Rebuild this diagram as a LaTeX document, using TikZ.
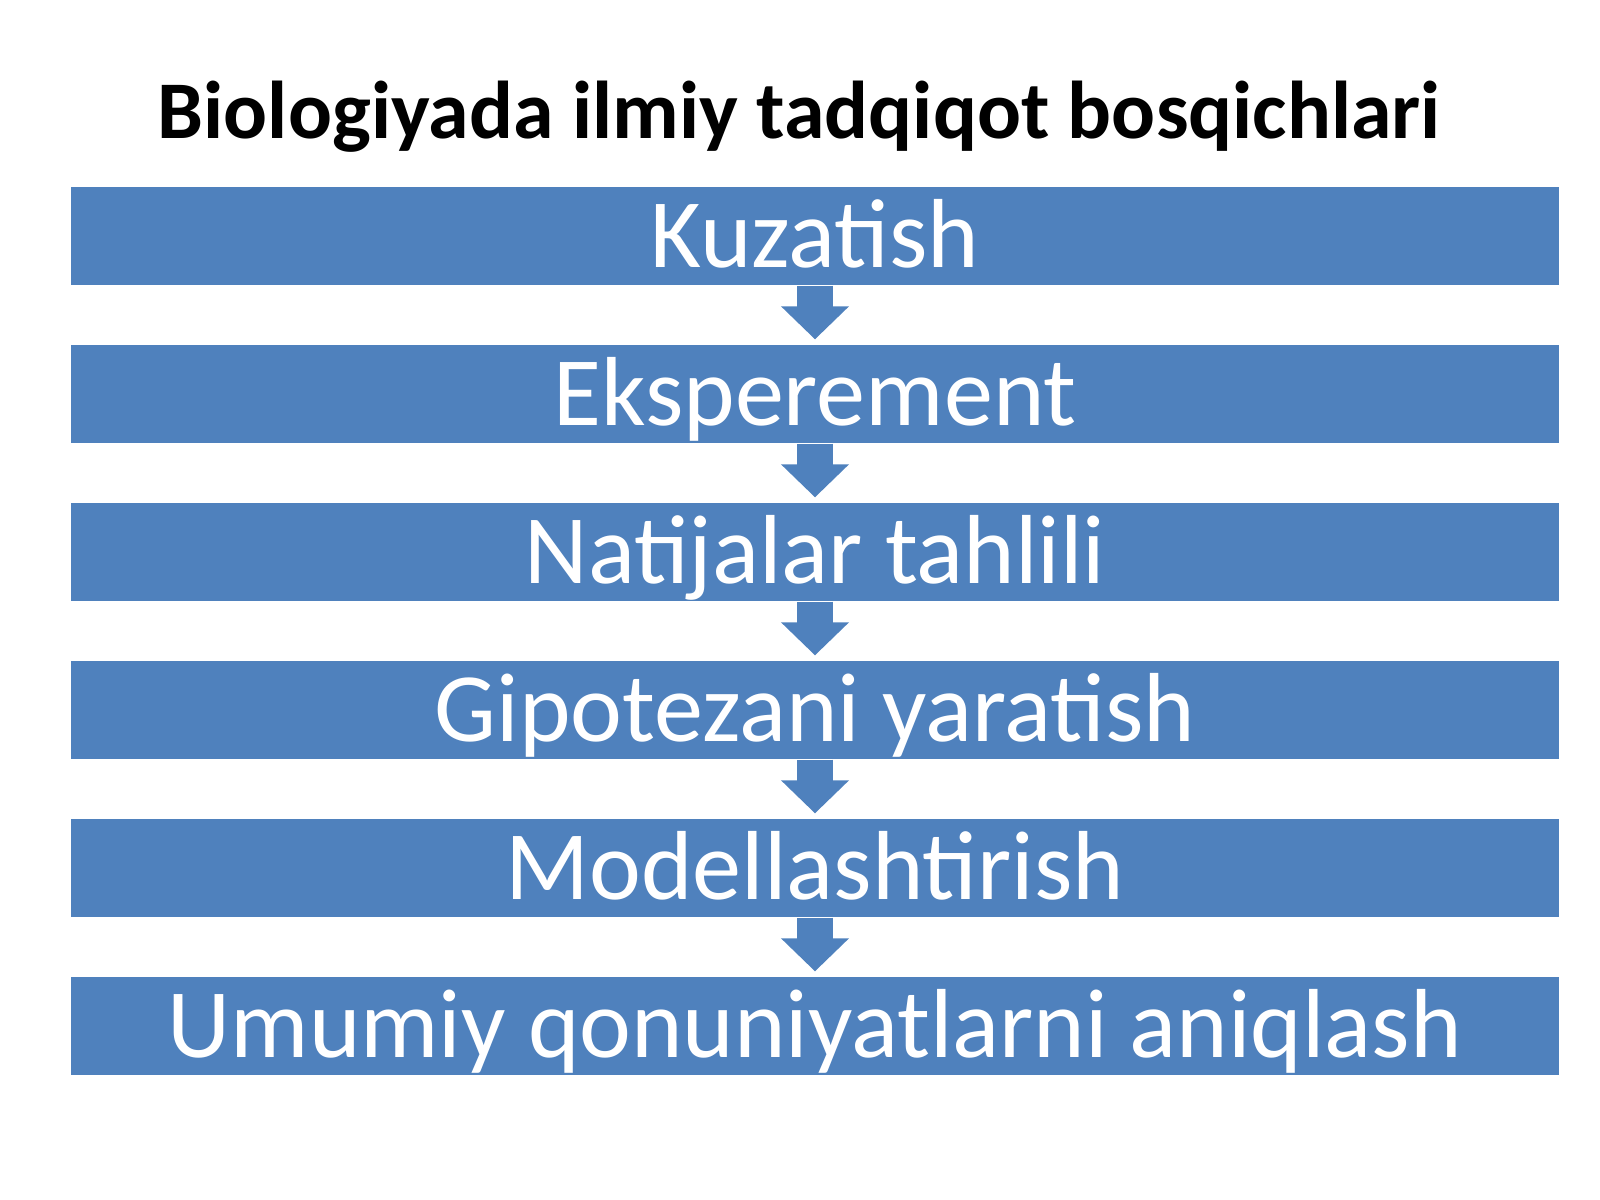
\documentclass[tikz,border=0pt]{standalone}
\usepackage{fontspec}
\setmainfont{Carlito}
\usetikzlibrary{arrows.meta}
\definecolor{barblue}{HTML}{4F81BD}

\begin{document}
\begin{tikzpicture}[x=0.01cm,y=-0.01cm,
  stepbar/.style={fill=barblue, text=white, minimum width=14.88cm, minimum height=0.98cm, inner sep=0pt, text height=0.62cm, text depth=0pt, font=\fontsize{27.9}{33}\selectfont},
  flow/.style={draw=barblue, line width=10pt, -{Triangle[width=18.8pt,length=9.4pt]}, shorten >=1.4pt}]
  \useasboundingbox (0,0) rectangle (1600,1200) ;
  \node[anchor=base, font=\bfseries\fontsize{23.3}{28}\selectfont] (title) at (799,138) {Biologiyada ilmiy tadqiqot bosqichlari} ;
  \node[stepbar] (kuz) at (815,236) {Kuzatish} ;
  \node[stepbar] (eks) at (815,394) {Eksperement} ;
  \node[stepbar] (nat) at (815,552) {Natijalar tahlili} ;
  \node[stepbar] (gip) at (815,710) {Gipotezani yaratish} ;
  \node[stepbar] (mod) at (815,868) {Modellashtirish} ;
  \node[stepbar] (umu) at (815,1026) {Umumiy qonuniyatlarni aniqlash} ;
  \draw[flow] (kuz) -- (eks) ;
  \draw[flow] (eks) -- (nat) ;
  \draw[flow] (nat) -- (gip) ;
  \draw[flow] (gip) -- (mod) ;
  \draw[flow] (mod) -- (umu) ;
\end{tikzpicture}
\end{document}
